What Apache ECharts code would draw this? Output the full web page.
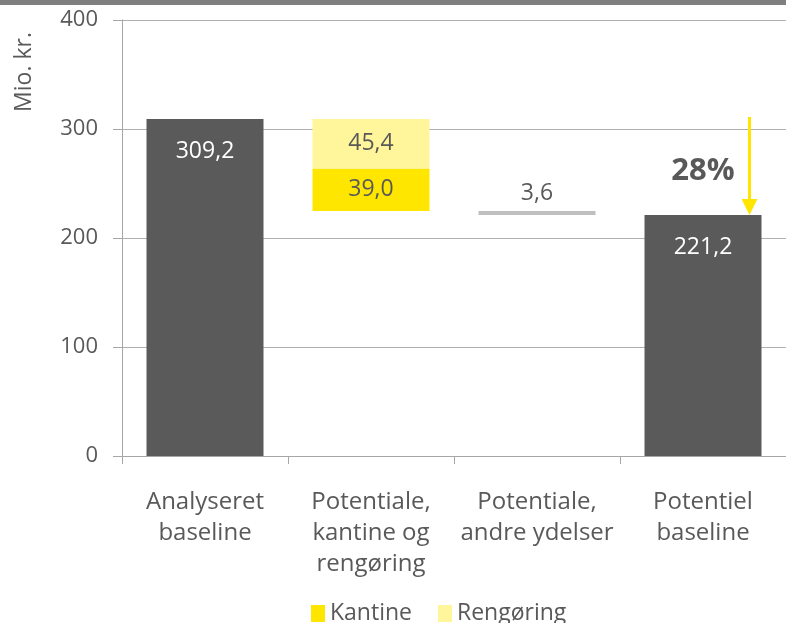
<!DOCTYPE html>
<html>
<head>
<meta charset="utf-8">
<script src="https://cdn.jsdelivr.net/npm/echarts@6/dist/echarts.min.js"></script>
<style>
  html, body { margin: 0; padding: 0; background: #fff; }
  #chart { width: 786px; height: 623px; }
</style>
</head>
<body>
<div id="chart"></div>
<script>
// Waterfall: from analysed baseline down to potential baseline (Mio. kr.)
const categories = ['Analyseret\nbaseline', 'Potentiale,\nkantine og\nrengøring', 'Potentiale,\nandre ydelser', 'Potentiel\nbaseline'];
const baselineValues = [309.2, null, null, 221.2];
const kantineValues = [null, 39.0, null, null];
const rengoringValues = [null, 45.4, null, null];
const andreValues = [null, null, 3.6, null];
const yTicks = [0, 100, 200, 300, 400];

// invisible offsets so each reduction hangs from the running total
const start = baselineValues[0];
const afterKantineRengoring = start - kantineValues[1] - rengoringValues[1];
const afterAndre = afterKantineRengoring - andreValues[2];
const offsetValues = [null, afterKantineRengoring, afterAndre, null];
const reduction = Math.round((start - baselineValues[3]) / start * 100);

const fmt = v => v.toFixed(1).replace('.', ',');
const textGray = '#595959';
const font = '"Open Sans", "Noto Sans", sans-serif';

const chart = echarts.init(document.getElementById('chart'));
chart.setOption({
  animation: false,
  textStyle: { fontFamily: font },
  graphic: [
    {
      type: 'rect', left: 0, top: 0,
      shape: { width: 786, height: 5 },
      style: { fill: '#7f7f7f' }, silent: true
    },
    {
      type: 'text', x: 24, y: 72, rotation: Math.PI / 2,
      style: {
        text: 'Mio. kr.', fill: textGray, font: '23px ' + font,
        align: 'center', verticalAlign: 'middle'
      }, silent: true
    }
  ],
  grid: { left: 122, top: 20, width: 672, bottom: 167, containLabel: false },
  legend: {
    top: 597, left: 306,
    data: ['Kantine', 'Rengøring'],
    icon: 'rect', itemWidth: 14, itemHeight: 17, itemGap: 26,
    textStyle: { fontSize: 23, color: textGray, fontFamily: font }
  },
  xAxis: {
    type: 'category',
    data: categories,
    axisLine: { lineStyle: { color: '#a6a6a6', width: 1 } },
    axisTick: { show: true, length: 8, lineStyle: { color: '#a6a6a6' } },
    axisLabel: {
      color: textGray, fontSize: 24, lineHeight: 31, margin: 31,
      interval: 0, fontFamily: font
    }
  },
  yAxis: {
    type: 'value', min: 0, max: 400, interval: 100,
    axisLine: { show: true, lineStyle: { color: '#a6a6a6' } },
    axisTick: { show: true, length: 9, inside: false, lineStyle: { color: '#a6a6a6' } },
    splitLine: { lineStyle: { color: '#b0b0b0', width: 1 } },
    axisLabel: {
      color: textGray, fontSize: 22, margin: 24, fontFamily: font,
      customValues: yTicks
    }
  },
  series: [
    {
      name: 'offset', type: 'bar', stack: 'w', barWidth: 117, silent: true,
      itemStyle: { color: 'transparent' },
      data: offsetValues
    },
    {
      name: 'Baseline', type: 'bar', stack: 'w', barWidth: 117,
      itemStyle: { color: '#5a5a5a' },
      label: {
        show: true, position: 'insideTop', distance: 21,
        color: '#fff', fontSize: 23, fontFamily: font,
        formatter: p => fmt(p.value)
      },
      data: baselineValues
    },
    {
      name: 'Andre', type: 'bar', stack: 'w', barWidth: 117,
      itemStyle: { color: '#bfbfbf' },
      label: {
        show: true, position: 'top', distance: 6,
        color: textGray, fontSize: 23, fontFamily: font,
        formatter: p => fmt(p.value)
      },
      data: andreValues
    },
    {
      name: 'Kantine', type: 'bar', stack: 'w', barWidth: 117,
      itemStyle: { color: '#ffe600' },
      label: {
        show: true, position: 'inside',
        color: textGray, fontSize: 23, fontFamily: font,
        formatter: p => fmt(p.value)
      },
      data: kantineValues
    },
    {
      name: 'Rengøring', type: 'bar', stack: 'w', barWidth: 117,
      itemStyle: { color: '#fff59b' },
      label: {
        show: true, position: 'inside',
        color: textGray, fontSize: 23, fontFamily: font,
        formatter: p => fmt(p.value)
      },
      data: rengoringValues
    },
    {
      // downward arrow and percentage from the start level to the final baseline
      name: 'reduction', type: 'custom', silent: true, z: 5,
      data: [[3, start, baselineValues[3]]],
      renderItem: (params, api) => {
        const top = api.coord([api.value(0), api.value(1)]);
        const bottom = api.coord([api.value(0), api.value(2)]);
        const band = api.size([1, 0])[0];
        const x = top[0] + band * 0.28;
        const mid = api.coord([api.value(0), (api.value(1) + api.value(2)) / 2]);
        const headH = 16, headW = 8;
        return {
          type: 'group',
          children: [
            {
              type: 'line',
              shape: { x1: x, y1: top[1] - 2, x2: x, y2: bottom[1] - headH + 1 },
              style: { stroke: '#ffe600', lineWidth: 3 }
            },
            {
              type: 'polygon',
              shape: { points: [[x - headW, bottom[1] - headH], [x + headW, bottom[1] - headH], [x, bottom[1]]] },
              style: { fill: '#ffe600' }
            },
            {
              type: 'text',
              style: {
                text: reduction + '%', x: mid[0], y: mid[1] + 4,
                align: 'center', verticalAlign: 'middle',
                fill: textGray, font: 'bold 31px ' + font
              }
            }
          ]
        };
      }
    }
  ]
});
</script>
</body>
</html>
